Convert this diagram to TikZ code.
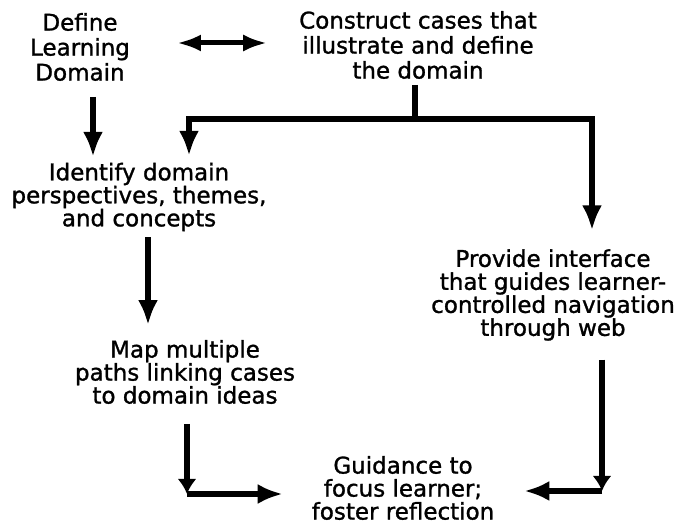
\documentclass[tikz,border=0pt]{standalone}
\usepackage{fontspec}
\setmainfont{DejaVu Sans}[FakeBold=1.2]
\usetikzlibrary{arrows.meta}

\begin{document}
\begin{tikzpicture}[x=1pt, y=1pt]
\tikzset{ >={Latex[length=25pt,width=20pt]}, inner sep=0pt, outer sep=0pt,
  txt/.style={align=center, font=\fontsize{23}{23}\selectfont},
  toptxt/.style={txt, font=\fontsize{23}{25}\selectfont},
  arr/.style={->, line width=6.5pt},
  bar/.style={line width=6.5pt},
  stub/.style={arr, >={Latex[length=15pt,width=19pt]}},
}

\useasboundingbox [fill=white] (0,0) rectangle (680,527);
%\draw [lightgray, dashed](0,0) grid[step=20] (680,527);

\node [toptxt] (D) at ( 80,480) {Define\\Learning\\Domain};
\node [toptxt] (C) at (418,482) {Construct cases that\\illustrate and define\\the domain};
\node [txt]    (I) at (139,330) {Identify domain\\perspectives, themes,\\and concepts};
\node [txt]    (M) at (185,155) {Map multiple\\paths linking cases\\to domain ideas};
\node [txt]    (P) at (553,232) {Provide interface\\that guides learner-\\controlled navigation\\through web};
\node [txt]    (G) at (403, 39) {Guidance to\\focus learner;\\foster reflection};

\coordinate (S)  at (415,408);
\coordinate (LC) at (187, 33);
\coordinate (RC) at (602, 36);

\draw [<->, line width=5pt, >={Latex[length=24pt,width=17pt]}, shorten <=47pt, shorten >=32pt] ([yshift=4pt]D.east) -- ([yshift=2pt]C.west);

\draw [arr, shorten <=16pt, shorten >=6pt] ([xshift=13pt]D.south) -- ([xshift=13pt]D.south |- I.north);

\draw [bar, shorten <=6pt] (C.south -| S) -- (S);
\draw [arr, shorten >=7pt]  (S) -| ([xshift=50pt]I.north);
\draw [arr, shorten >=19pt] (S) -| ([xshift=39pt]P.north);

\draw [arr, shorten <=6pt, shorten >=15pt] ([xshift=9pt]I.south) -- ([xshift=9pt]I.south |- M.north);

\draw [stub, shorten <=20pt] (M.south -| LC) -- (LC);
\draw [arr, shorten >=29pt]  (LC) -- (LC -| G.west);

\draw [stub, shorten <=19pt] (P.south -| RC) -- (RC);
\draw [arr, shorten >=30pt]  (RC) -- (RC -| G.east);

\end{tikzpicture}
\end{document}
